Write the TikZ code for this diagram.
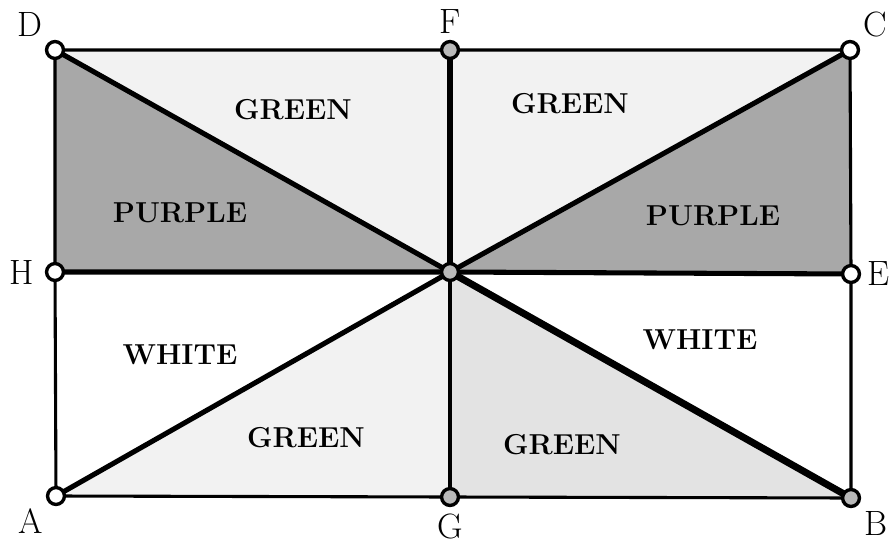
\documentclass[tikz,border=0pt]{standalone}
\usepackage{tikz}

\tikzset{
  opendot/.style={circle, draw, line width=2.4pt, fill=white, inner sep=0pt, minimum size=12pt},
  fulldot/.style={opendot, fill=gray!55},
  region/.style={font=\bfseries\fontsize{20.5}{20.5}\selectfont},
  ptlabel/.style={font=\fontsize{25}{25}\selectfont, label distance=1pt},
  thin edge/.style={line width=2.2pt},
  thick edge/.style={line width=3.6pt, line cap=round}
}

\begin{document}
\begin{tikzpicture}[x=0.025cm, y=-0.025cm]
  \useasboundingbox (0,0) rectangle (891,550);
  % corners and midpoints
  \coordinate (D) at (55,50);
  \coordinate (F) at (450,50);
  \coordinate (C) at (850,50);
  \coordinate (H) at (55,272);
  \coordinate (O) at (450,272);
  \coordinate (E) at (851,274);
  \coordinate (A) at (56,496);
  \coordinate (G) at (450,497);
  \coordinate (B) at (851,498);
  % shaded parts
  \fill[gray!10] (D) -- (F) -- (O) -- cycle;
  \fill[gray!10] (F) -- (C) -- (O) -- cycle;
  \fill[gray!10] (A) -- (G) -- (O) -- cycle;
  \fill[gray!22] (G) -- (B) -- (O) -- cycle;
  \fill[gray!68] (D) -- (H) -- (O) -- cycle;
  \fill[gray!68] (C) -- (E) -- (O) -- cycle;
  % frame
  \draw[thin edge] (D) -- (F) -- (C) -- (E) -- (B) -- (G) -- (A) -- (H) -- cycle;
  \draw[thin edge] (O) -- (G);
  % lines through the centre
  \draw[thick edge] (H) -- (O) -- (E);
  \draw[thick edge] (F) -- (O);
  \draw[thick edge] (D) -- (O) -- (C);
  \draw[thick edge] (A) -- (O);
  \draw[line width=5pt, line cap=round] (O) -- (B);
  % points
  \node[opendot, label={[ptlabel]above left:D}] (d) at (D) {};
  \node[fulldot, label={[ptlabel]above:F}] (f) at (F) {};
  \node[opendot, label={[ptlabel]above right:C}] (c) at (C) {};
  \node[opendot, label={[ptlabel, label distance=4pt]left:H}] (h) at (H) {};
  \node[fulldot] (o) at (O) {};
  \node[opendot, label={[ptlabel]right:E}] (e) at (E) {};
  \node[opendot, label={[ptlabel]below left:A}] (a) at (A) {};
  \node[fulldot, label={[ptlabel]below:G}] (g) at (G) {};
  \node[fulldot, label={[ptlabel]below right:B}] (b) at (B) {};
  % colour names
  \node[region] (green1) at (293,110) {GREEN};
  \node[region] (green2) at (570,104) {GREEN};
  \node[region] (purple1) at (180,213) {PURPLE};
  \node[region] (purple2) at (713,216) {PURPLE};
  \node[region] (white1) at (180,355) {WHITE};
  \node[region] (white2) at (700,340) {WHITE};
  \node[region] (green3) at (306,438) {GREEN};
  \node[region] (green4) at (562,445) {GREEN};
\end{tikzpicture}
\end{document}
